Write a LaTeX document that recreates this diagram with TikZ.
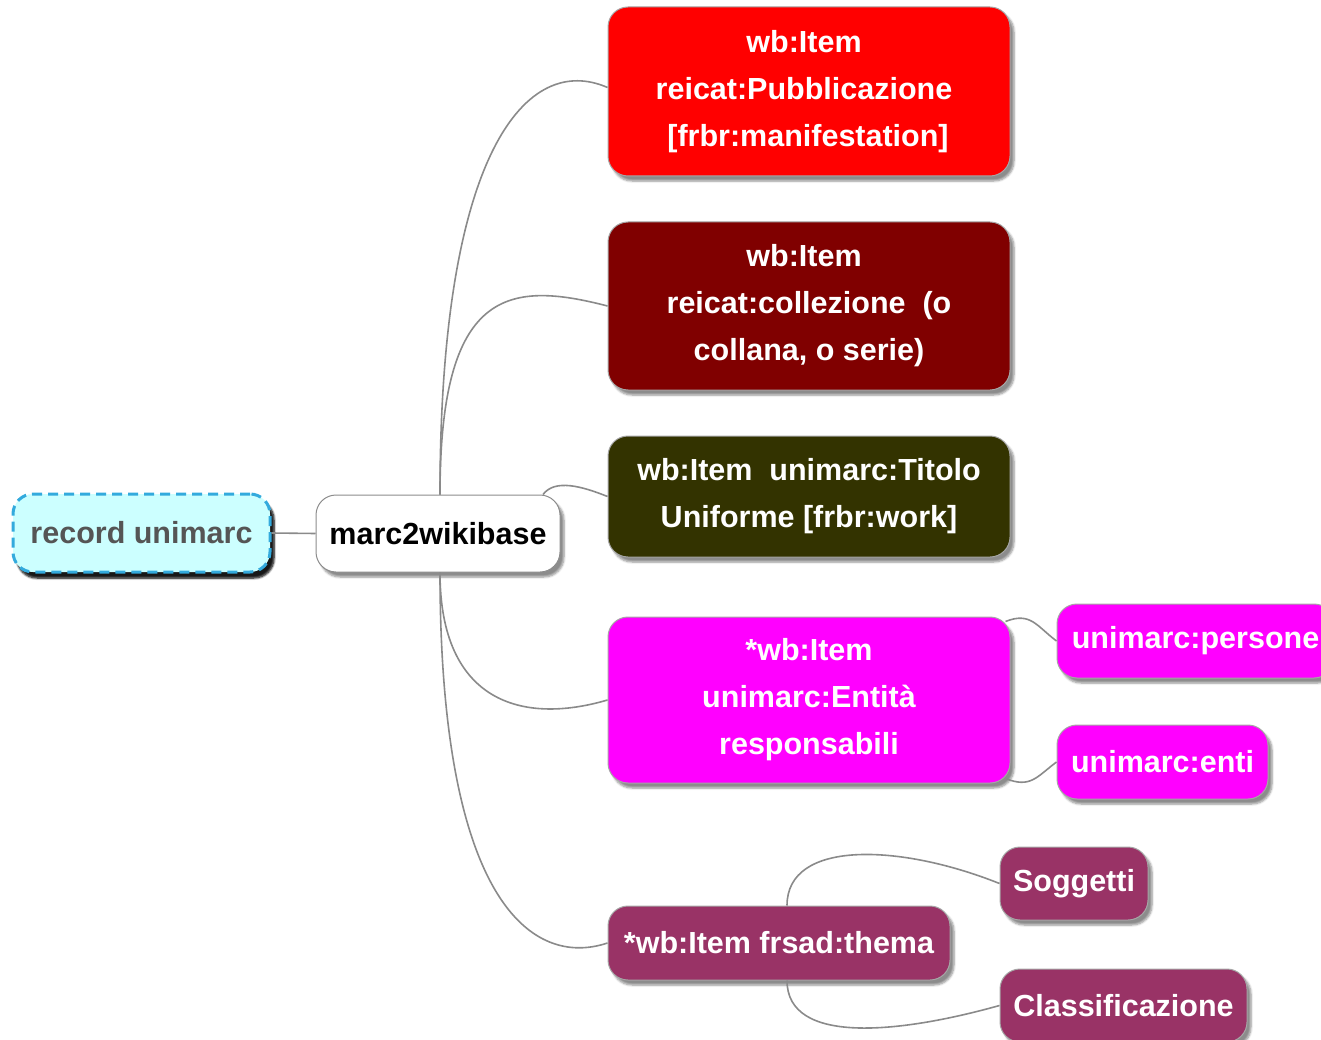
\documentclass[tikz,border=0pt]{standalone}
\usepackage{fontspec}
\setmainfont{Liberation Sans}
\usetikzlibrary{shadows.blur}
\definecolor{cRed}{HTML}{FF0000}
\definecolor{cDarkRed}{HTML}{800000}
\definecolor{cOlive}{HTML}{333300}
\definecolor{cMagenta}{HTML}{FF00FF}
\definecolor{cPlum}{HTML}{993366}
\definecolor{cCyan}{HTML}{CCFFFF}
\definecolor{cBlue}{HTML}{33AADD}
\definecolor{cLine}{HTML}{8A8A8A}
\definecolor{cGrayText}{HTML}{555555}
\begin{document}
\begin{tikzpicture}[x=1pt,y=-1pt,
  box/.style={rounded corners=20pt, draw=black!35, line width=1pt, align=center,
    font=\bfseries\fontsize{30.5}{47}\selectfont, text=white, inner sep=0pt,
    blur shadow={shadow xshift=4pt, shadow yshift=-5pt, shadow blur steps=6, shadow opacity=45}},
  conn/.style={draw=cLine, line width=1.6pt}]
\useasboundingbox (0,0) rectangle (1321,1040);
\clip (0,0) rectangle (1321,1040);

\node[box, fill=cCyan, draw=cBlue, line width=3pt, dash pattern=on 10pt off 6pt, text=cGrayText,
  minimum width=257pt, minimum height=78pt,
  blur shadow={shadow xshift=4pt, shadow yshift=-6pt, shadow blur steps=6, shadow opacity=70}]
  (rec) at (141.5,533) {record unimarc};
\node[box, fill=white, draw=black!45, text=black, minimum width=244pt, minimum height=77pt]
  (marc) at (438,533.5) {marc2wikibase};

\node[box, fill=cRed, minimum width=402pt, minimum height=169pt] (pub) at (809,91.5)
  {\hspace*{-10pt}wb:Item\\\hspace*{-10pt}reicat:Pubblicazione\\\hspace*{-2pt}[frbr:manifestation]};
\node[box, fill=cDarkRed, minimum width=402pt, minimum height=168pt] (coll) at (809,306)
  {\hspace*{-10pt}wb:Item\\reicat:collezione\ \ (o\\collana, o serie)};
\node[box, fill=cOlive, minimum width=402pt, minimum height=121pt] (tit) at (809,496.5)
  {wb:Item\ \ unimarc:Titolo\\Uniforme [frbr:work]};
\node[box, fill=cMagenta, minimum width=402pt, minimum height=166pt] (ent) at (809,700)
  {*wb:Item\\unimarc:Entità\\responsabili};
\node[box, fill=cMagenta, minimum width=277pt, minimum height=74pt] (pers) at (1195.5,641)
  {unimarc:persone};
\node[box, fill=cMagenta, minimum width=211pt, minimum height=74pt] (enti) at (1162.5,762)
  {unimarc:enti};
\node[box, fill=cPlum, minimum width=342pt, minimum height=74pt] (thema) at (779,943)
  {*wb:Item frsad:thema};
\node[box, fill=cPlum, minimum width=148pt, minimum height=73pt] (sogg) at (1074,883.5)
  {Soggetti};
\node[box, fill=cPlum, minimum width=247pt, minimum height=73pt] (class) at (1123.5,1005.5)
  {Classificazione};

\draw[conn] (rec.east) -- (marc.west);
\draw[conn] ([xshift=2pt]marc.north) .. controls +(0,-345) and +(-80,-35) .. ([yshift=4pt]pub.west);
\draw[conn] ([xshift=2pt]marc.north) .. controls +(0,-205) and +(-100,-26) .. (coll.west);
\draw[conn] ([xshift=105pt]marc.north) .. controls +(12,-16) and +(-25,-10) .. (tit.west);
\draw[conn] ([xshift=2pt]marc.south) .. controls +(0,130) and +(-85,25) .. (ent.west);
\draw[conn] ([xshift=2pt]marc.south) .. controls +(0,330) and +(-75,25) .. (thema.west);
\draw[conn] ([xshift=-5pt,yshift=-5pt]ent.north east) .. controls +(25,-10) and +(-20,-15) .. (pers.west);
\draw[conn] ([xshift=-5pt,yshift=5pt]ent.south east) .. controls +(25,10) and +(-20,15) .. (enti.west);
\draw[conn] ([xshift=8pt]thema.north) .. controls +(0,-66) and +(-100,-40) .. (sogg.west);
\draw[conn] ([xshift=8pt]thema.south) .. controls +(0,65) and +(-100,28) .. (class.west);
\end{tikzpicture}
\end{document}
